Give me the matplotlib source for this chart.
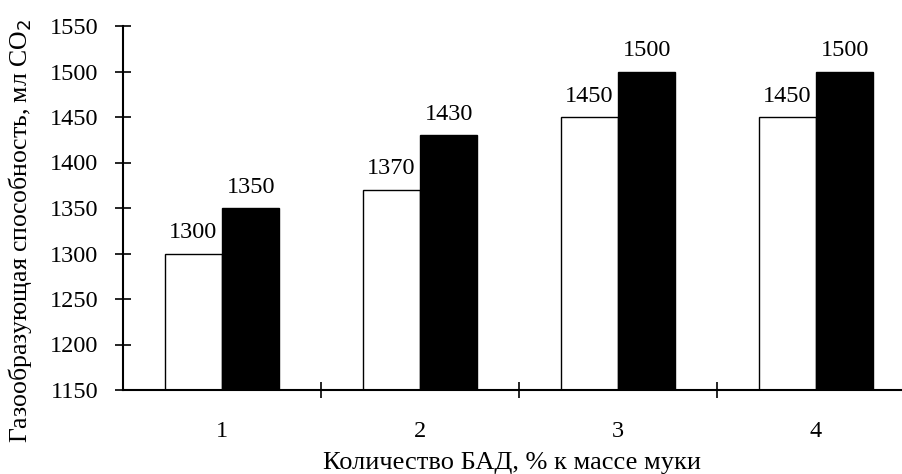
import matplotlib
matplotlib.use("Agg")
import matplotlib.pyplot as plt
import numpy as np

plt.rcParams['font.family'] = ['Liberation Serif', 'DejaVu Serif']

categories = ["1", "2", "3", "4"]
series_white = [1300, 1370, 1450, 1450]
series_black = [1350, 1430, 1500, 1500]
y_ticks = [1150, 1200, 1250, 1300, 1350, 1400, 1450, 1500, 1550]

W, H = 902, 474
fig = plt.figure(figsize=(W / 100, H / 100), dpi=100)
ax = fig.add_axes([123 / W, (H - 390) / H, 792 / W, 364 / H])

x = np.arange(1, len(categories) + 1)
bw = 0.29
fs = 17.5

ax.bar(x - bw / 2, series_white, width=bw, color="white",
       edgecolor="black", linewidth=1.0, zorder=2)
ax.bar(x + bw / 2, series_black, width=bw, color="black",
       edgecolor="black", linewidth=1.0, zorder=2)

for xi, v in zip(x - bw / 2, series_white):
    ax.annotate(f"{v}", (xi, v), xytext=(0, 7.5), textcoords="offset points",
                ha="center", va="bottom", fontsize=fs)
for xi, v in zip(x + bw / 2, series_black):
    ax.annotate(f"{v}", (xi, v), xytext=(0, 7.5), textcoords="offset points",
                ha="center", va="bottom", fontsize=fs)

ax.set_xlim(0.5, 4.5)
ax.set_ylim(1150, 1550)
ax.set_yticks(y_ticks)
ax.set_yticklabels([str(t) for t in y_ticks], fontsize=fs)

ax.set_xticks([1.5, 2.5, 3.5])
ax.set_xticklabels([])
ax.set_xticks(x, minor=True)
ax.set_xticklabels(categories, minor=True, fontsize=fs)
ax.tick_params(axis="x", which="minor", length=0, pad=22)
ax.tick_params(axis="x", which="major", direction="inout", length=11, width=1.2)
ax.tick_params(axis="y", direction="inout", length=12, width=1.2, pad=12)

for side in ("top", "right"):
    ax.spines[side].set_visible(False)
for side in ("left", "bottom"):
    ax.spines[side].set_linewidth(1.5)
    ax.spines[side].set_zorder(3)

fig.text(20 / W, (H - 443) / H, "Газообразующая способность, мл CO$_2$",
         rotation=90, ha="center", va="bottom", fontsize=18.5)
fig.text(512 / W, (H - 463) / H, "Количество БАД, % к массе муки",
         ha="center", va="center", fontsize=19)

fig.savefig("out.png", dpi=100)
